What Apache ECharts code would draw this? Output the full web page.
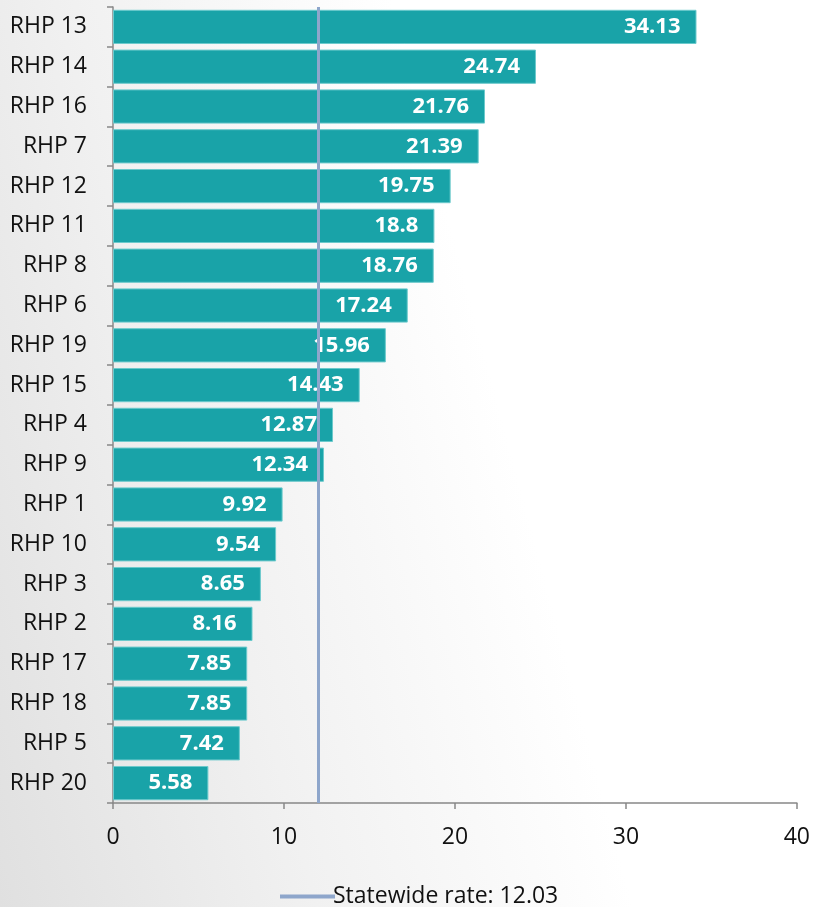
<!DOCTYPE html>
<html><head><meta charset="utf-8">
<script src="https://cdn.jsdelivr.net/npm/echarts@6/dist/echarts.min.js"></script>
<style>
html,body{margin:0;padding:0;}
body{width:813px;height:907px;background:linear-gradient(75deg,#e0e0e0 0%,#f1f1f1 30%,#ffffff 60%,#ffffff 100%);}
#c{width:813px;height:907px;}
</style></head>
<body><div id="c"></div>
<script>
var categories = ['RHP 13','RHP 14','RHP 16','RHP 7','RHP 12','RHP 11','RHP 8','RHP 6','RHP 19','RHP 15','RHP 4','RHP 9','RHP 1','RHP 10','RHP 3','RHP 2','RHP 17','RHP 18','RHP 5','RHP 20'];
var values = [34.13,24.74,21.76,21.39,19.75,18.8,18.76,17.24,15.96,14.43,12.87,12.34,9.92,9.54,8.65,8.16,7.85,7.85,7.42,5.58];
var statewideRate = 12.03;
var statewideName = 'Statewide rate: 12.03';
var xTicks = {min:0, max:40, interval:10};

var chart = echarts.init(document.getElementById('c'), null, {renderer:'canvas'});
chart.setOption({
  backgroundColor:'transparent',
  animation:false,
  textStyle:{fontFamily:'Open Sans'},
  grid:{left:113,right:15,top:7,bottom:104,containLabel:false},
  legend:{
    top:880, left:275,
    data:[{name:statewideName, icon:'rect'}],
    itemWidth:55, itemHeight:4, itemGap:0,
    textStyle:{fontSize:23,color:'#111',padding:[0,0,0,-7],fontFamily:'Open Sans'}
  },
  xAxis:{
    type:'value', min:xTicks.min, max:xTicks.max, interval:xTicks.interval,
    splitLine:{show:false},
    axisLine:{show:true,lineStyle:{color:'#888',width:1.5}},
    axisTick:{show:true,length:6,lineStyle:{color:'#888',width:1.5}},
    axisLabel:{fontSize:23,color:'#111',margin:23}
  },
  yAxis:{
    type:'category', data:categories, inverse:true,
    axisLine:{show:true,lineStyle:{color:'#888',width:1.5}},
    axisTick:{show:true,length:6,lineStyle:{color:'#888',width:1.5}},
    axisLabel:{fontSize:23,color:'#111',margin:26,align:'right'}
  },
  series:[
    {
      type:'bar', data:values, barWidth:'86%',
      itemStyle:{color:'#19A3A8',borderColor:'#6CCACC',borderWidth:1},
      label:{show:true,position:'insideRight',distance:16,color:'#fff',fontWeight:'bold',fontSize:22,fontFamily:'Open Sans'},
      z:2
    },
    {
      type:'line', name:statewideName, data:[],
      itemStyle:{color:'#8EA6CB'},
      lineStyle:{color:'#8EA6CB',width:3},
      markLine:{
        silent:true, symbol:['none','none'],
        label:{show:false},
        lineStyle:{color:'#8EA6CB',width:3,type:'solid'},
        data:[{xAxis:statewideRate}]
      },
      z:5
    }
  ]
});
</script></body></html>
